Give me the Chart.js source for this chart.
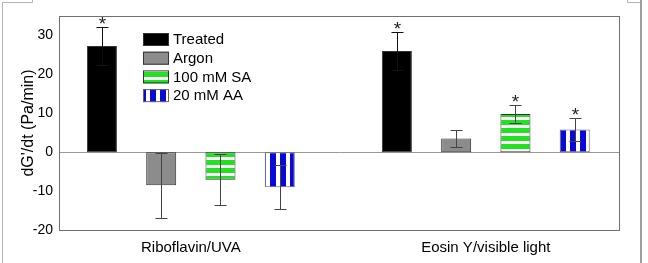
<!DOCTYPE html>
<html>
<head>
<meta charset="UTF-8">
<title>dG'/dt chart</title>
<script src="https://cdn.jsdelivr.net/npm/chart.js@4/dist/chart.umd.min.js"></script>
<style>
  body { margin: 0; background: #fff; }
  #wrap { width: 648px; height: 263px; }
</style>
</head>
<body>
<div id="wrap"><canvas id="myChart"></canvas></div>
<script>
const categories = ['Riboflavin/UVA', 'Eosin Y/visible light'];
const seriesNames = ['Treated', 'Argon', '100 mM SA', '20 mM AA'];
const treated = [27.3, 26.0];
const argon = [-8.5, 3.5];
const sa = [-7.1, 9.8];
const aa = [-9.0, 5.8];
const treatedErr = [4.9, 4.9];
const argonErr = [8.4, 2.2];
const saErr = [6.6, 2.2];
const aaErr = [5.7, 2.9];
const treatedStar = [true, true];
const argonStar = [false, false];
const saStar = [false, true];
const aaStar = [false, true];
const yTicks = [-20, -10, 0, 10, 20, 30];

function stripes(color, vertical) {
    const n = vertical ? 10 : 8;
    const c = document.createElement('canvas');
    c.width = n; c.height = n;
    const g = c.getContext('2d');
    g.fillStyle = '#fff';
    g.fillRect(0, 0, n, n);
    g.fillStyle = color;
    if (vertical) g.fillRect(0, 0, 6, n);
    else g.fillRect(0, 0, n, 5);
    return g.createPattern(c, 'repeat');
}

const ctx = document.getElementById('myChart').getContext('2d');
const fills = ['#000000', '#8c8c8c', stripes('#22e022', false), stripes('#0a0ad8', true)];
const values = [treated, argon, sa, aa];
const errors = [treatedErr, argonErr, saErr, aaErr];
const stars = [treatedStar, argonStar, saStar, aaStar];

const datasets = seriesNames.map((name, s) => ({
    label: name,
    data: categories.map((c, i) => ({x: i, y: values[s][i]})),
    err: errors[s],
    star: stars[s],
    backgroundColor: fills[s],
    borderColor: s === 3 ? '#666' : '#333',
    borderWidth: 1,
    borderSkipped: false,
    categoryPercentage: 0.804,
    barPercentage: 0.506
}));

const decorPlugin = {
    id: 'decor',
    beforeDraw(chart) {
        const c = chart.ctx;
        c.save();
        c.strokeStyle = '#b4b4b4';
        c.lineWidth = 1;
        c.beginPath();
        c.moveTo(2.5, 263); c.lineTo(2.5, 2.5); c.lineTo(32.5, 2.5); c.lineTo(32.5, 0);
        c.moveTo(627.5, 0); c.lineTo(627.5, 2.5); c.lineTo(640, 2.5);
        c.stroke();
        c.strokeStyle = '#a0a0a0';
        c.lineWidth = 2;
        c.beginPath();
        c.moveTo(641, 0); c.lineTo(641, 263);
        c.stroke();
        c.restore();
    },
    beforeDatasetsDraw(chart) {
        const c = chart.ctx;
        const a = chart.chartArea;
        const y0 = Math.round(chart.scales.y.getPixelForValue(0)) + 0.5;
        c.save();
        c.strokeStyle = '#999';
        c.lineWidth = 1;
        c.beginPath();
        c.moveTo(a.left, y0); c.lineTo(a.right, y0);
        c.stroke();
        c.restore();
    },
    afterDatasetsDraw(chart) {
        const c = chart.ctx;
        const a = chart.chartArea;
        const ys = chart.scales.y;
        c.save();
        chart.data.datasets.forEach((ds, s) => {
            const meta = chart.getDatasetMeta(s);
            meta.data.forEach((bar, i) => {
                const v = ds.data[i].y, e = ds.err[i];
                const x = Math.round(bar.x) + 0.5;
                const top = ys.getPixelForValue(v + e);
                const bot = ys.getPixelForValue(v - e);
                c.strokeStyle = s === 0 ? '#111' : '#444';
                c.lineWidth = 1;
                c.beginPath();
                c.moveTo(x, top); c.lineTo(x, bot);
                c.moveTo(x - 6, Math.round(top) + 0.5); c.lineTo(x + 6, Math.round(top) + 0.5);
                c.moveTo(x - 6, Math.round(bot) + 0.5); c.lineTo(x + 6, Math.round(bot) + 0.5);
                c.stroke();
                if (ds.star[i]) {
                    c.fillStyle = '#222';
                    c.font = '19px "Liberation Sans", Arial, sans-serif';
                    c.textAlign = 'center';
                    c.textBaseline = 'alphabetic';
                    c.fillText('*', x, top + 3);
                }
            });
        });
        c.strokeStyle = '#707070';
        c.lineWidth = 1;
        c.strokeRect(a.left + 0.5, a.top + 0.5, a.right - a.left - 1, a.bottom - a.top);
        c.restore();
    },
    afterDraw(chart) {
        const c = chart.ctx;
        const a = chart.chartArea;
        const bx = a.left + 84, by = a.top + 17;
        c.save();
        c.font = '15px "Liberation Sans", Arial, sans-serif';
        c.textAlign = 'left';
        c.textBaseline = 'middle';
        chart.data.datasets.forEach((ds, s) => {
            const y = by + s * 18.7;
            c.fillStyle = ds.backgroundColor;
            c.fillRect(bx, y, 26, 13);
            c.strokeStyle = ds.borderColor;
            c.strokeRect(bx + 0.5, y + 0.5, 25, 12);
            c.fillStyle = '#000';
            c.fillText(ds.label, bx + 30, y + 7);
        });
        c.restore();
    }
};

new Chart(ctx, {
    type: 'bar',
    data: {datasets: datasets},
    options: {
        responsive: true,
        maintainAspectRatio: false,
        animation: false,
        layout: {padding: {left: 0, right: 28, top: 16, bottom: 0}},
        plugins: {legend: {display: false}, tooltip: {enabled: false}},
        scales: {
            x: {
                type: 'linear',
                offset: false,
                min: -0.447,
                max: 1.455,
                grid: {display: false, drawTicks: false},
                border: {display: false},
                afterBuildTicks: (scale) => { scale.ticks = categories.map((c, i) => ({value: i})); },
                afterFit: (scale) => { scale.height = 33; },
                ticks: {
                    padding: 9,
                    maxRotation: 0,
                    autoSkip: false,
                    color: '#000',
                    font: {family: '"Liberation Sans", Arial, sans-serif', size: 15},
                    callback: (v) => categories[v]
                }
            },
            y: {
                min: -20,
                max: 35,
                grid: {display: false, drawTicks: false},
                border: {display: false},
                afterBuildTicks: (scale) => { scale.ticks = yTicks.map(v => ({value: v})); },
                afterFit: (scale) => { scale.width = 59; },
                ticks: {
                    padding: 6,
                    color: '#000',
                    font: {family: '"Liberation Sans", Arial, sans-serif', size: 14}
                },
                title: {
                    display: true,
                    text: "dG'/dt (Pa/min)",
                    color: '#000',
                    padding: {top: 19, bottom: 0},
                    font: {family: '"Liberation Sans", Arial, sans-serif', size: 16}
                }
            }
        }
    },
    plugins: [decorPlugin]
});
</script>
</body>
</html>
